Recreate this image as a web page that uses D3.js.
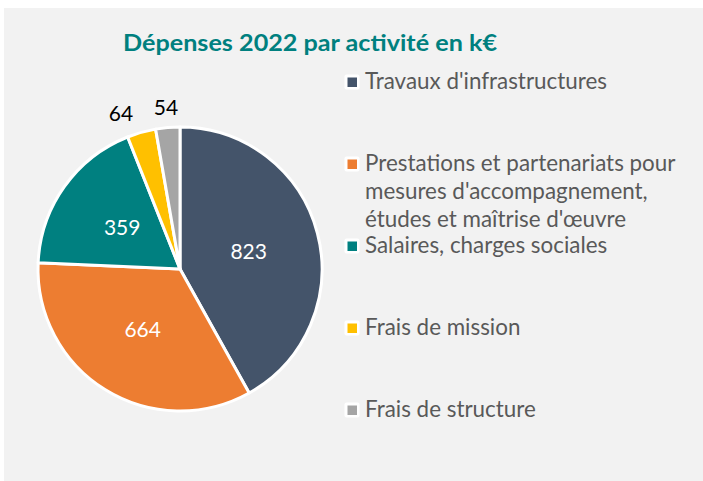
<!DOCTYPE html>
<html>
<head>
<meta charset="utf-8">
<script src="https://cdn.jsdelivr.net/npm/d3@7"></script>
<style>
	body { margin: 0; background: #fff; }
	text { font-family: Lato, "Open Sans", sans-serif; }
</style>
</head>
<body>
<svg id="chart" width="703" height="481"></svg>
<script>

var categories = [
	"Travaux d'infrastructures",
	"Prestations et partenariats pour\nmesures d'accompagnement,\nétudes et maîtrise d'œuvre",
	"Salaires, charges sociales",
	"Frais de mission",
	"Frais de structure"
];
var values = [823, 664, 359, 64, 54];
var colors = ["#44546a", "#ed7d31", "#008080", "#ffc000", "#a5a5a5"];
var title = "Dépenses 2022 par activité en k€";

var width = 703,
	height = 481,
	cx = 180,
	cy = 269,
	radius = 142;

var svg = d3.select("#chart");

svg.append("rect")
	.attr("x", 4)
	.attr("y", 8)
	.attr("width", width - 4)
	.attr("height", height - 8)
	.attr("fill", "#f2f2f2");

svg.append("text")
	.attr("x", 310)
	.attr("y", 51)
	.attr("text-anchor", "middle")
	.attr("font-size", "22px")
	.attr("font-weight", "bold")
	.attr("fill", "#00807f")
	.attr("textLength", 374)
	.attr("lengthAdjust", "spacingAndGlyphs")
	.text(title);

var data = categories.map(function(c, i) {
	return { name: c, value: values[i], color: colors[i] };
});

var pie = d3.pie()
	.sort(null)
	.value(function(d) { return d.value; });

var arc = d3.arc()
	.innerRadius(0)
	.outerRadius(radius);

var arcs = pie(data);

var plotarea = svg.append("g")
	.attr("transform", "translate(" + cx + "," + cy + ")");

plotarea.selectAll(".slice")
	.data(arcs)
	.enter()
	.append("path")
	.attr("class", "slice")
	.attr("d", arc)
	.attr("fill", function(d) { return d.data.color; })
	.attr("stroke", "#fff")
	.attr("stroke-width", 3)
	.attr("stroke-linejoin", "round");

// labels: inside for big slices, outside for small ones
var labelArc = d3.arc()
	.innerRadius(radius + 20)
	.outerRadius(radius + 20);

var labels = arcs.map(function(d) {
	var share = (d.endAngle - d.startAngle) / (2 * Math.PI);
	var inside = share > 0.08;
	var p = inside ? arc.centroid(d) : labelArc.centroid(d);
	return { x: p[0], y: p[1], inside: inside, value: d.data.value };
});

// push outside labels apart
var outside = labels.filter(function(l) { return !l.inside; })
	.sort(function(a, b) { return a.x - b.x; });
for (var i = outside.length - 2; i >= 0; i--) {
	if (outside[i + 1].x - outside[i].x < 45) {
		outside[i].x = outside[i + 1].x - 45;
	}
}

plotarea.selectAll(".label")
	.data(labels)
	.enter()
	.append("text")
	.attr("class", "label")
	.attr("x", function(d) { return d.x; })
	.attr("y", function(d) { return d.y; })
	.attr("dy", "0.36em")
	.attr("text-anchor", "middle")
	.attr("font-size", "21px")
	.attr("fill", function(d) { return d.inside ? "#fff" : "#000"; })
	.text(function(d) { return d.value; });

// legend
var legendY = d3.scalePoint()
	.domain(categories)
	.range([82, 410]);

var legend = svg.selectAll(".legend")
	.data(data)
	.enter()
	.append("g")
	.attr("class", "legend")
	.attr("transform", function(d) {
		return "translate(352," + legendY(d.name) + ")";
	});

legend.append("rect")
	.attr("x", -7.5)
	.attr("y", -7.5)
	.attr("width", 15)
	.attr("height", 15)
	.attr("rx", 2)
	.attr("fill", "#fff");

legend.append("rect")
	.attr("x", -4.5)
	.attr("y", -4.5)
	.attr("width", 9.5)
	.attr("height", 9.5)
	.attr("fill", function(d) { return d.color; });

legend.append("text")
	.attr("x", 13)
	.attr("y", 7)
	.attr("font-size", "22.4px")
	.attr("fill", "#595959")
	.selectAll("tspan")
	.data(function(d) { return d.name.split("\n"); })
	.enter()
	.append("tspan")
	.attr("x", 13)
	.attr("dy", function(d, i) { return i ? 28 : 0; })
	.text(function(d) { return d; });

</script>
</body>
</html>
